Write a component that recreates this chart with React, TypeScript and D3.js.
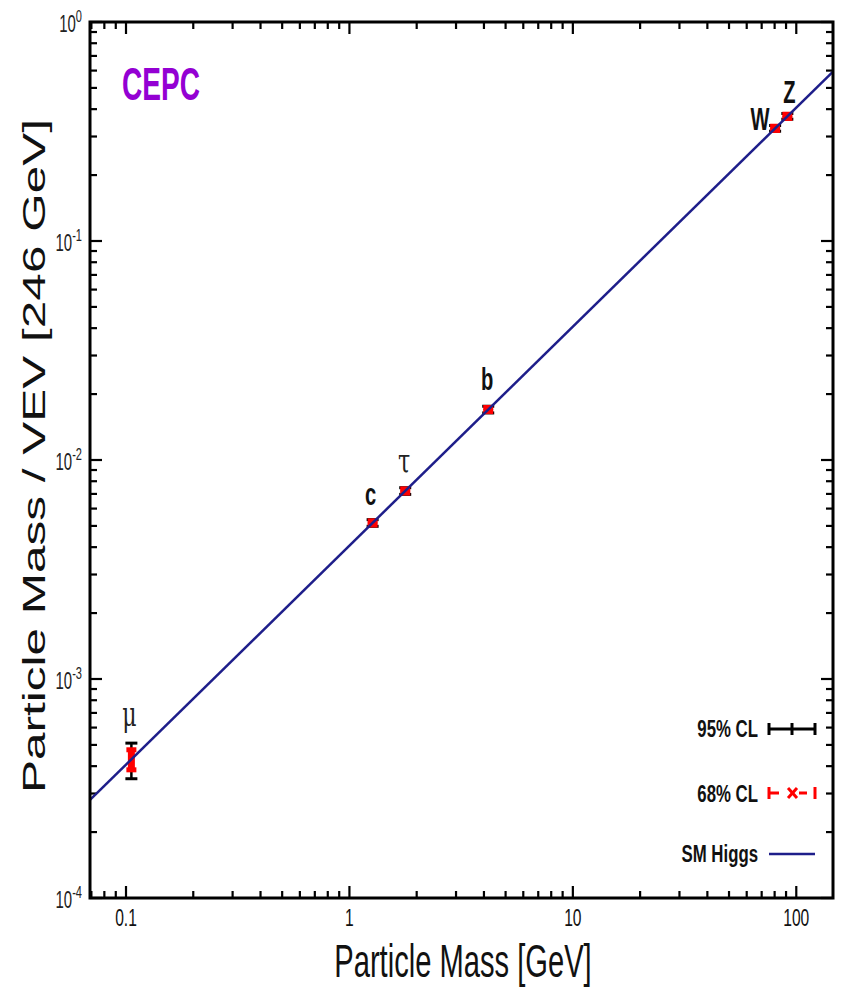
import React from 'react';
import * as d3 from 'd3';

// ---- data ----
const particleNames = ['μ', 'c', 'τ', 'b', 'W', 'Z'];
const particleMass = [0.1057, 1.27, 1.777, 4.18, 80.4, 91.19];
const massOverVev = [4.3e-4, 5.16e-3, 7.22e-3, 1.70e-2, 0.327, 0.371];
const relErr68 = [0.105, 0.022, 0.022, 0.022, 0.022, 0.022];
const relErr95 = [0.185, 0.035, 0.035, 0.035, 0.03, 0.03];
const xTickValues = [0.1, 1, 10, 100];
const xTickLabels = ['0.1', '1', '10', '100'];
const yTickExponents = [0, -1, -2, -3, -4];
const VEV = 246;
const xDomain = [0.069, 146];
const yDomain = [1e-4, 1];
const legendLabels = ['95% CL', '68% CL', 'SM Higgs'];

const FONT = 'Liberation Sans, Arial, sans-serif';
const SX = 0.65;

function T({ x, y, sx = SX, anchor = 'middle', fs, weight = 'normal', fill = '#111', family = FONT, children }: any) {
  return (
    <g transform={`translate(${x},${y}) scale(${sx},1)`}>
      <text x={0} y={0} textAnchor={anchor} fontSize={fs} fontWeight={weight} fill={fill} fontFamily={family}>
        {children}
      </text>
    </g>
  );
}

export default function App() {
  const L = 90, R = 833, TOP = 22, B = 898;
  const x = d3.scaleLog().domain(xDomain).range([L, R]);
  const y = d3.scaleLog().domain(yDomain).range([B, TOP]);

  const isMajor = (v: number) => Math.abs(Math.log10(v) - Math.round(Math.log10(v))) < 1e-9;
  const xTicks = x.ticks().filter((v) => v >= xDomain[0] && v <= xDomain[1]);
  const yTicks = y.ticks();

  const smLine = d3.line<number>().x((m) => x(m)).y((m) => y(m / VEV));

  const labelShift: Record<string, [number, number]> = {
    'μ': [-2, -33], c: [-2, -18], 'τ': [-1, -18], b: [-1, -20], W: [-15, 2], Z: [2, -13],
  };

  const navy = '#1e1e8a';
  const red = '#ff0000';

  return (
    <svg width={841} height={990} style={{ position: 'absolute', left: 0, top: 0, background: '#fff' }}>
      <rect x={0} y={0} width={841} height={990} fill="#fff" />
      {/* ticks */}
      {xTicks.map((v, i) => {
        const len = isMajor(v) ? 12 : 7;
        const px = x(v);
        return (
          <g key={'xt' + i} stroke="#000" strokeWidth={2.2}>
            <line x1={px} x2={px} y1={B} y2={B - len} />
            <line x1={px} x2={px} y1={TOP} y2={TOP + len} />
          </g>
        );
      })}
      {yTicks.map((v, i) => {
        const len = isMajor(v) ? 12 : 7;
        const py = y(v);
        return (
          <g key={'yt' + i} stroke="#000" strokeWidth={2.2}>
            <line x1={L} x2={L + len} y1={py} y2={py} />
            <line x1={R} x2={R - len} y1={py} y2={py} />
          </g>
        );
      })}

      {/* tick labels */}
      {xTickValues.map((v, i) => (
        <T key={'xl' + i} x={x(v)} y={926} fs={24}>{xTickLabels[i]}</T>
      ))}
      {yTickExponents.map((e, i) => (
        <T key={'yl' + i} x={82} y={y(Math.pow(10, e)) + 10} fs={23} anchor="end" fill="#222">
          10<tspan fontSize={17} dy={-10}>{String(e)}</tspan>
        </T>
      ))}

      {/* axis titles */}
      <T x={463} y={977} fs={47} sx={0.62}>Particle Mass [GeV]</T>
      <g transform={`translate(45,456) rotate(-90) scale(1,0.65)`}>
        <text textAnchor="middle" fontSize={49.5} fontFamily={FONT} fill="#111">Particle Mass / VEV [246 GeV]</text>
      </g>

      {/* CEPC */}
      <T x={122} y={100} fs={46} sx={0.61} anchor="start" weight="bold" fill="#9400d3">CEPC</T>

      {/* points */}
      {particleNames.map((n, i) => {
        const px = x(particleMass[i]);
        const v = massOverVev[i];
        const b1 = y(v * (1 + relErr95[i]));
        const b2 = y(v * (1 - relErr95[i]));
        const r1 = y(v * (1 + relErr68[i]));
        const r2 = y(v * (1 - relErr68[i]));
        return (
          <g key={'p' + i}>
            <line x1={px} x2={px} y1={b1} y2={b2} stroke="#000" strokeWidth={2.5} />
            <line x1={px - 6} x2={px + 6} y1={b1} y2={b1} stroke="#000" strokeWidth={3} />
            <line x1={px - 6} x2={px + 6} y1={b2} y2={b2} stroke="#000" strokeWidth={3} />
            <rect x={px - 3.5} y={r1} width={7} height={r2 - r1} fill={red} />
            <rect x={px - 5} y={r1 - 2.5} width={10} height={5} fill={red} />
            <rect x={px - 5} y={r2 - 2.5} width={10} height={5} fill={red} />
          </g>
        );
      })}

      {/* SM line */}
      <path d={smLine(xDomain) || ''} fill="none" stroke={navy} strokeWidth={2.5} />

      {/* particle labels */}
      {particleNames.map((n, i) => {
        const [dx, dy] = labelShift[n];
        const greek = n === 'μ' || n === 'τ';
        return (
          <T key={'lab' + i} x={x(particleMass[i]) + dx} y={y(massOverVev[i]) + dy} fs={greek ? 34 : 31}
            weight={greek ? 'normal' : 'bold'} family={greek ? 'DejaVu Serif, serif' : FONT}
            fill={greek ? '#222' : '#111'}>
            {n}
          </T>
        );
      })}

      {/* frame */}
      <rect x={L} y={TOP} width={R - L} height={B - TOP} fill="none" stroke="#000" strokeWidth={3} />

      {/* legend */}
      <T x={758} y={737} fs={24} sx={0.7} anchor="end" weight="bold">{legendLabels[0]}</T>
      <g stroke="#000" strokeWidth={3}>
        <line x1={768} x2={816} y1={729} y2={729} />
        <line x1={769} x2={769} y1={723} y2={735} />
        <line x1={815} x2={815} y1={723} y2={735} />
        <line x1={792} x2={792} y1={723} y2={735} />
      </g>
      <T x={758} y={802} fs={24} sx={0.7} anchor="end" weight="bold">{legendLabels[1]}</T>
      <g stroke={red} strokeWidth={3}>
        <line x1={769} x2={769} y1={787} y2={799} />
        <line x1={768} x2={779} y1={793} y2={793} />
        <line x1={788} x2={797} y1={788} y2={798} />
        <line x1={788} x2={797} y1={798} y2={788} />
        <line x1={799} x2={807} y1={793} y2={793} />
        <line x1={815} x2={815} y1={787} y2={799} />
      </g>
      <T x={758} y={862} fs={24} sx={0.7} anchor="end" weight="bold">{legendLabels[2]}</T>
      <line x1={769} x2={815} y1={854} y2={854} stroke={navy} strokeWidth={2.5} />
    </svg>
  );
}
